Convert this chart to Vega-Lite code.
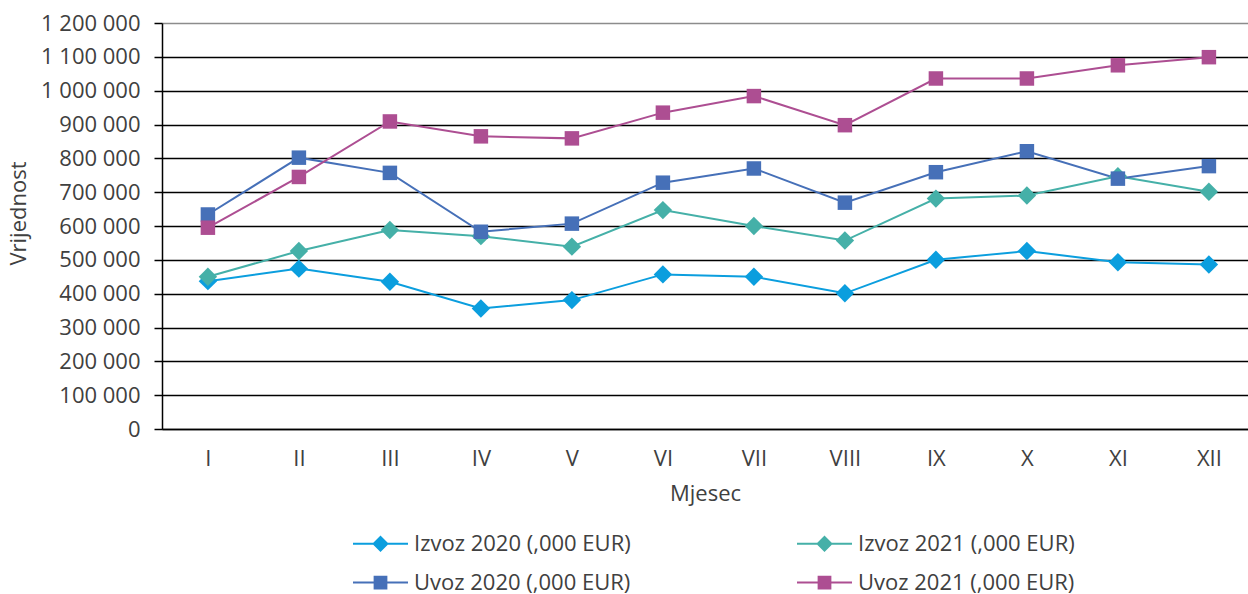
{
  "$schema": "https://vega.github.io/schema/vega-lite/v6.json",
  "width": 1086,
  "height": 406,
  "autosize": "none",
  "padding": {"left": 162, "top": 23, "right": 0, "bottom": 165},
  "background": "white",
  "config": {
    "font": "Open Sans",
    "view": {"stroke": null},
    "locale": {"number": {"decimal": ",", "thousands": " ", "grouping": [3], "currency": ["", " €"]}}
  },
  "data": {
    "values": [
      {"month": "I", "series": "Izvoz 2020 (,000 EUR)", "value": 437000},
      {"month": "II", "series": "Izvoz 2020 (,000 EUR)", "value": 474000},
      {"month": "III", "series": "Izvoz 2020 (,000 EUR)", "value": 435000},
      {"month": "IV", "series": "Izvoz 2020 (,000 EUR)", "value": 356000},
      {"month": "V", "series": "Izvoz 2020 (,000 EUR)", "value": 381000},
      {"month": "VI", "series": "Izvoz 2020 (,000 EUR)", "value": 457000},
      {"month": "VII", "series": "Izvoz 2020 (,000 EUR)", "value": 450000},
      {"month": "VIII", "series": "Izvoz 2020 (,000 EUR)", "value": 401000},
      {"month": "IX", "series": "Izvoz 2020 (,000 EUR)", "value": 500000},
      {"month": "X", "series": "Izvoz 2020 (,000 EUR)", "value": 526000},
      {"month": "XI", "series": "Izvoz 2020 (,000 EUR)", "value": 493000},
      {"month": "XII", "series": "Izvoz 2020 (,000 EUR)", "value": 486000},
      {"month": "I", "series": "Izvoz 2021 (,000 EUR)", "value": 450000},
      {"month": "II", "series": "Izvoz 2021 (,000 EUR)", "value": 526000},
      {"month": "III", "series": "Izvoz 2021 (,000 EUR)", "value": 588000},
      {"month": "IV", "series": "Izvoz 2021 (,000 EUR)", "value": 570000},
      {"month": "V", "series": "Izvoz 2021 (,000 EUR)", "value": 539000},
      {"month": "VI", "series": "Izvoz 2021 (,000 EUR)", "value": 647000},
      {"month": "VII", "series": "Izvoz 2021 (,000 EUR)", "value": 600000},
      {"month": "VIII", "series": "Izvoz 2021 (,000 EUR)", "value": 557000},
      {"month": "IX", "series": "Izvoz 2021 (,000 EUR)", "value": 681000},
      {"month": "X", "series": "Izvoz 2021 (,000 EUR)", "value": 690000},
      {"month": "XI", "series": "Izvoz 2021 (,000 EUR)", "value": 747000},
      {"month": "XII", "series": "Izvoz 2021 (,000 EUR)", "value": 701000},
      {"month": "I", "series": "Uvoz 2020 (,000 EUR)", "value": 634000},
      {"month": "II", "series": "Uvoz 2020 (,000 EUR)", "value": 802000},
      {"month": "III", "series": "Uvoz 2020 (,000 EUR)", "value": 757000},
      {"month": "IV", "series": "Uvoz 2020 (,000 EUR)", "value": 583000},
      {"month": "V", "series": "Uvoz 2020 (,000 EUR)", "value": 607000},
      {"month": "VI", "series": "Uvoz 2020 (,000 EUR)", "value": 728000},
      {"month": "VII", "series": "Uvoz 2020 (,000 EUR)", "value": 770000},
      {"month": "VIII", "series": "Uvoz 2020 (,000 EUR)", "value": 669000},
      {"month": "IX", "series": "Uvoz 2020 (,000 EUR)", "value": 759000},
      {"month": "X", "series": "Uvoz 2020 (,000 EUR)", "value": 821000},
      {"month": "XI", "series": "Uvoz 2020 (,000 EUR)", "value": 740000},
      {"month": "XII", "series": "Uvoz 2020 (,000 EUR)", "value": 777000},
      {"month": "I", "series": "Uvoz 2021 (,000 EUR)", "value": 595000},
      {"month": "II", "series": "Uvoz 2021 (,000 EUR)", "value": 745000},
      {"month": "III", "series": "Uvoz 2021 (,000 EUR)", "value": 909000},
      {"month": "IV", "series": "Uvoz 2021 (,000 EUR)", "value": 865000},
      {"month": "V", "series": "Uvoz 2021 (,000 EUR)", "value": 859000},
      {"month": "VI", "series": "Uvoz 2021 (,000 EUR)", "value": 935000},
      {"month": "VII", "series": "Uvoz 2021 (,000 EUR)", "value": 984000},
      {"month": "VIII", "series": "Uvoz 2021 (,000 EUR)", "value": 898000},
      {"month": "IX", "series": "Uvoz 2021 (,000 EUR)", "value": 1036000},
      {"month": "X", "series": "Uvoz 2021 (,000 EUR)", "value": 1036000},
      {"month": "XI", "series": "Uvoz 2021 (,000 EUR)", "value": 1075000},
      {"month": "XII", "series": "Uvoz 2021 (,000 EUR)", "value": 1099000}
    ]
  },
  "encoding": {
    "x": {
      "field": "month",
      "type": "ordinal",
      "sort": ["I", "II", "III", "IV", "V", "VI", "VII", "VIII", "IX", "X", "XI", "XII"],
      "scale": {"type": "point", "padding": 0.467, "align": 0.54},
      "axis": {
        "title": "Mjesec",
        "labelAngle": 0,
        "ticks": false,
        "domainColor": "black",
        "domainWidth": 1.5,
        "labelFontSize": 22,
        "labelColor": "#404040",
        "labelPadding": 19,
        "titleFontSize": 22,
        "titleFontWeight": "normal",
        "titleColor": "#404040",
        "titlePadding": 14,
        "grid": false
      }
    },
    "y": {
      "field": "value",
      "type": "quantitative",
      "scale": {"domain": [0, 1200000], "nice": false},
      "axis": {
        "title": "Vrijednost",
        "titleY": 190,
        "values": [0, 100000, 200000, 300000, 400000, 500000, 600000, 700000, 800000, 900000, 1000000, 1100000, 1200000],
        "format": ",.0f",
        "tickSize": 8,
        "tickColor": "black",
        "tickWidth": 1.5,
        "domainColor": "black",
        "domainWidth": 1.5,
        "grid": true,
        "gridColor": {"condition": {"test": "datum.value >= 1200000", "value": "#8c8c8c"}, "value": "black"},
        "gridWidth": 1.5,
        "labelFontSize": 22,
        "labelColor": "#404040",
        "labelPadding": 14,
        "titleFontSize": 22,
        "titleFontWeight": "normal",
        "titleColor": "#404040",
        "titlePadding": 10
      }
    },
    "color": {
      "field": "series",
      "type": "nominal",
      "scale": {
        "domain": ["Izvoz 2020 (,000 EUR)", "Izvoz 2021 (,000 EUR)", "Uvoz 2020 (,000 EUR)", "Uvoz 2021 (,000 EUR)"],
        "range": ["#0B9EDE", "#45B0A8", "#4670B8", "#AD4E92"]
      },
      "legend": {
        "orient": "none",
        "direction": "horizontal",
        "legendX": 191,
        "legendY": 493,
        "columns": 2,
        "columnPadding": 166,
        "rowPadding": -22,
        "padding": 0,
        "title": null,
        "labelFontSize": 22,
        "labelColor": "#404040",
        "labelOffset": 6,
        "labelLimit": 0,
        "symbolSize": 3025,
        "symbolStrokeWidth": 0
      }
    }
  },
  "layer": [
    {
      "mark": {"type": "line", "strokeWidth": 2},
      "encoding": {"detail": {"field": "series"}}
    },
    {
      "mark": {"type": "point", "filled": true, "opacity": 1},
      "encoding": {
        "shape": {"condition": {"test": "indexof(datum.series, 'Izvoz') >= 0", "value": "diamond"}, "value": "square"},
        "size": {"condition": {"test": "indexof(datum.series, 'Izvoz') >= 0", "value": 340}, "value": 210}
      }
    },
    {
      "transform": [{"filter": "false"}],
      "mark": {"type": "point", "filled": true, "opacity": 1},
      "encoding": {
        "shape": {
          "field": "series",
          "type": "nominal",
          "scale": {
            "domain": ["Izvoz 2020 (,000 EUR)", "Izvoz 2021 (,000 EUR)", "Uvoz 2020 (,000 EUR)", "Uvoz 2021 (,000 EUR)"],
            "range": [
              "M-1,-0.04H1V0.04H-1ZM0,-0.3L0.3,0L0,0.3L-0.3,0Z",
              "M-1,-0.04H1V0.04H-1ZM0,-0.3L0.3,0L0,0.3L-0.3,0Z",
              "M-1,-0.04H1V0.04H-1ZM-0.25,-0.25H0.25V0.25H-0.25Z",
              "M-1,-0.04H1V0.04H-1ZM-0.25,-0.25H0.25V0.25H-0.25Z"
            ]
          },
          "legend": {
            "orient": "none",
            "direction": "horizontal",
            "legendX": 191,
            "legendY": 493,
            "columns": 2,
            "columnPadding": 166,
            "rowPadding": -22,
            "padding": 0,
            "title": null,
            "labelFontSize": 22,
            "labelColor": "#404040",
            "labelOffset": 6,
            "labelLimit": 0,
            "symbolSize": 3025,
            "symbolStrokeWidth": 0
          }
        }
      }
    }
  ]
}
